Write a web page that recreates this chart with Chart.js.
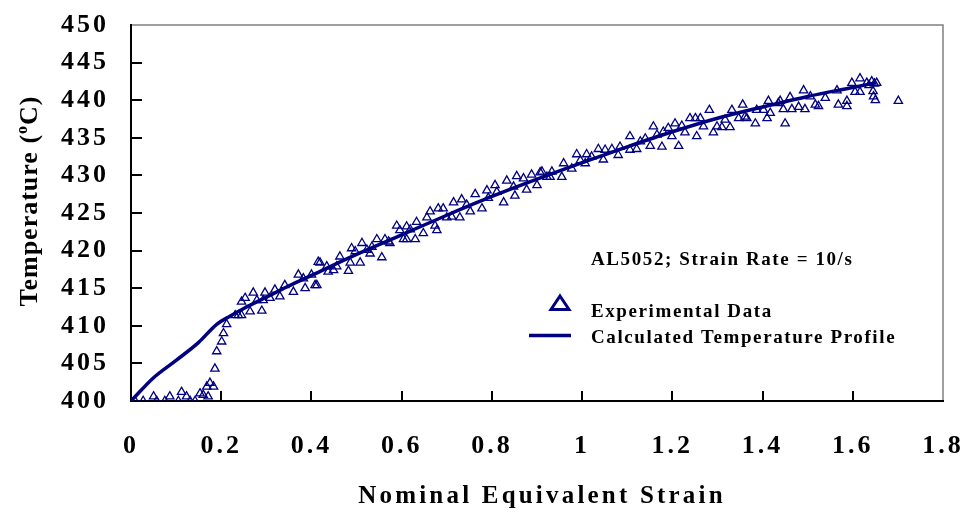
<!DOCTYPE html>
<html lang="en">
<head>
<meta charset="UTF-8">
<title>AL5052 Temperature Profile</title>
<script src="https://cdn.jsdelivr.net/npm/chart.js"></script>
<style>
    html, body { margin: 0; padding: 0; background: #ffffff; }
    #wrap { width: 966px; height: 510px; }
</style>
</head>
<body>
<div id="wrap"><canvas id="chart" width="966" height="510"></canvas></div>
<script>
// axis ticks
const xTicks = [0, 0.2, 0.4, 0.6, 0.8, 1, 1.2, 1.4, 1.6, 1.8];
const xTickLabels = ['0', '0.2', '0.4', '0.6', '0.8', '1', '1.2', '1.4', '1.6', '1.8'];
const yTicks = [400, 405, 410, 415, 420, 425, 430, 435, 440, 445, 450];

// calculated temperature profile
const calcStrain = [0, 0.05, 0.1, 0.15, 0.19, 0.22, 0.25, 0.3, 0.35, 0.4, 0.5, 0.6, 0.7, 0.8, 0.9, 1.0, 1.1, 1.2, 1.3, 1.4, 1.5, 1.6, 1.65];
const calcTemp = [400, 403.1, 405.4, 407.8, 410.2, 411.3, 412.3, 413.8, 415.3, 416.7, 419.5, 422.1, 424.7, 427.2, 429.5, 431.7, 433.8, 435.8, 437.6, 439.1, 440.5, 441.7, 442.3];

const expStrain = [
    0.009, 0.027, 0.05, 0.057, 0.075, 0.086, 0.105, 0.112, 0.123, 0.131, 0.142, 0.153, 0.16, 0.168, 0.171, 0.175, 0.183, 0.186, 0.19, 0.201,
    0.205, 0.212, 0.231, 0.238, 0.245, 0.245, 0.253, 0.264, 0.271, 0.279, 0.29, 0.293, 0.297, 0.308, 0.319, 0.33, 0.341, 0.36, 0.371, 0.386,
    0.4, 0.412, 0.415, 0.408, 0.382, 0.419, 0.434, 0.437, 0.449, 0.456, 0.463, 0.482, 0.486, 0.489, 0.497, 0.508, 0.512, 0.523, 0.53, 0.534,
    0.545, 0.556, 0.563, 0.571, 0.574, 0.589, 0.596, 0.604, 0.611, 0.611, 0.619, 0.63, 0.633, 0.648, 0.656, 0.663, 0.674, 0.678, 0.681, 0.692,
    0.7, 0.711, 0.715, 0.729, 0.733, 0.744, 0.752, 0.763, 0.778, 0.789, 0.792, 0.807, 0.811, 0.826, 0.833, 0.848, 0.851, 0.855, 0.87, 0.877,
    0.888, 0.9, 0.907, 0.922, 0.911, 0.929, 0.933, 0.955, 0.959, 0.977, 0.988, 0.996, 1.007, 1.01, 1.021, 1.036, 1.047, 1.051, 1.066, 1.08,
    1.084, 1.106, 1.106, 1.121, 1.129, 1.14, 1.151, 1.158, 1.166, 1.177, 1.18, 1.191, 1.199, 1.206, 1.214, 1.221, 1.228, 1.239, 1.251, 1.254,
    1.262, 1.269, 1.282, 1.291, 1.299, 1.31, 1.317, 1.328, 1.332, 1.347, 1.356, 1.365, 1.384, 1.387, 1.402, 1.41, 1.413, 1.417, 1.435, 1.361,
    1.439, 1.446, 1.45, 1.461, 1.465, 1.48, 1.491, 1.494, 1.506, 1.517, 1.524, 1.539, 1.565, 1.568, 1.587, 1.587, 1.598, 1.605, 1.616, 1.616,
    1.631, 1.642, 1.646, 1.65, 1.653, 1.636, 1.648, 1.645, 1.701
];
const expTemp = [
    400.0, 400.0, 400.6, 400.0, 400.0, 400.6, 400.0, 401.2, 400.6, 400.0, 400.0, 401.0, 400.8, 401.9, 400.6, 402.4, 401.9, 404.3, 406.6, 407.9,
    409.0, 410.2, 411.4, 411.4, 411.4, 413.2, 413.7, 411.9, 414.4, 413.4, 412.0, 413.4, 414.4, 413.7, 414.8, 413.9, 415.4, 414.5, 416.8, 415.0,
    416.8, 415.4, 418.5, 415.4, 416.3, 418.4, 417.9, 417.2, 417.4, 417.9, 419.2, 417.3, 418.4, 420.3, 419.9, 418.4, 421.0, 420.1, 419.6, 420.5,
    421.5, 419.1, 421.5, 421.2, 421.0, 423.3, 422.7, 421.5, 421.5, 423.2, 422.8, 421.5, 423.8, 422.3, 424.4, 425.2, 423.3, 422.7, 425.6, 425.6,
    424.4, 424.5, 426.4, 424.4, 426.8, 426.1, 425.2, 427.5, 425.6, 428.0, 427.0, 428.7, 427.8, 426.4, 429.3, 428.5, 427.3, 429.9, 429.6, 428.1,
    430.1, 428.7, 430.4, 429.8, 430.5, 429.8, 430.5, 429.8, 431.6, 430.9, 432.8, 432.0, 431.6, 432.8, 432.5, 433.5, 432.1, 433.4, 433.5, 432.7,
    433.8, 435.2, 433.4, 433.5, 434.5, 434.9, 433.9, 436.5, 435.4, 433.8, 435.8, 436.3, 435.2, 436.9, 433.9, 436.6, 435.7, 437.6, 437.6, 435.2,
    437.6, 436.5, 438.7, 435.7, 436.5, 436.4, 437.4, 436.4, 438.7, 437.6, 439.4, 437.6, 436.9, 438.7, 438.7, 437.6, 439.9, 438.3, 439.6, 437.8,
    439.9, 438.8, 436.9, 440.4, 438.8, 439.1, 441.3, 438.8, 440.5, 439.4, 439.2, 440.3, 441.3, 439.4, 439.9, 439.2, 442.3, 441.1, 442.9, 441.1,
    442.3, 442.5, 440.5, 440.0, 442.3, 442.0, 442.2, 441.2, 439.9
];

const navy = '#000080';
const serif = "'Liberation Serif', 'Times New Roman', serif";

// keep the plot box fixed: no extra padding for overhanging tick labels
function fixBox(size, key) {
    return s => {
        s[key] = size;
        s.paddingTop = 0;
        s.paddingBottom = 0;
        s.paddingLeft = 0;
        s.paddingRight = 0;
    };
}

// frame: gray top/right box, black left/bottom axes with inward ticks
const frame = {
    id: 'frame',
    beforeDraw(chart) {
        chart.ctx.letterSpacing = '3px';
    },
    beforeDatasetsDraw(chart) {
        const { ctx, chartArea: a, scales: { x, y } } = chart;
        ctx.save();
        ctx.letterSpacing = '0px';
        ctx.strokeStyle = '#808080';
        ctx.lineWidth = 1.5;
        ctx.beginPath();
        ctx.moveTo(a.left, a.top);
        ctx.lineTo(a.right, a.top);
        ctx.lineTo(a.right, a.bottom);
        ctx.stroke();

        ctx.strokeStyle = '#000000';
        ctx.lineWidth = 2;
        ctx.beginPath();
        ctx.moveTo(a.left, a.top - 1);
        ctx.lineTo(a.left, a.bottom);
        ctx.lineTo(a.right + 1, a.bottom);
        yTicks.slice(1, -1).forEach(v => {
            const py = Math.round(y.getPixelForValue(v));
            ctx.moveTo(a.left, py);
            ctx.lineTo(a.left + 11, py);
        });
        xTicks.slice(1, -1).forEach(v => {
            const px = Math.round(x.getPixelForValue(v));
            ctx.moveTo(px, a.bottom);
            ctx.lineTo(px, a.bottom - 10);
        });
        ctx.stroke();
        ctx.restore();
    },
    afterDraw(chart) {
        const ctx = chart.ctx;
        ctx.save();
        ctx.fillStyle = '#000000';

        // x title
        ctx.letterSpacing = '3.2px';
        ctx.font = 'bold 25px ' + serif;
        ctx.textAlign = 'center';
        ctx.textBaseline = 'alphabetic';
        ctx.fillText('Nominal Equivalent Strain', 542, 503);

        // y title with superscript o
        ctx.translate(37, 201);
        ctx.rotate(-Math.PI / 2);
        ctx.letterSpacing = '1px';
        ctx.textAlign = 'left';
        const big = 'bold 26px ' + serif;
        const small = 'bold 16px ' + serif;
        ctx.font = big;
        const w1 = ctx.measureText('Temperature (').width;
        const w3 = ctx.measureText('C)').width;
        ctx.font = small;
        const w2 = ctx.measureText('o').width;
        let cx = -(w1 + w2 + w3) / 2;
        ctx.font = big;
        ctx.fillText('Temperature (', cx, 0);
        cx += w1;
        ctx.font = small;
        ctx.fillText('o', cx, -10);
        cx += w2;
        ctx.font = big;
        ctx.fillText('C)', cx, 0);
        ctx.setTransform(1, 0, 0, 1, 0, 0);

        // annotation + legend
        ctx.letterSpacing = '1.6px';
        ctx.font = 'bold 19px ' + serif;
        ctx.textAlign = 'left';
        ctx.fillText('AL5052; Strain Rate = 10/s', 591, 265);
        ctx.fillText('Experimental Data', 591, 317);
        ctx.fillText('Calculated Temperature Profile', 591, 343);

        ctx.strokeStyle = navy;
        ctx.lineWidth = 3;
        ctx.lineJoin = 'miter';
        ctx.beginPath();
        ctx.moveTo(560, 296);
        ctx.lineTo(569, 309.5);
        ctx.lineTo(551, 309.5);
        ctx.closePath();
        ctx.stroke();

        ctx.lineWidth = 3.5;
        ctx.beginPath();
        ctx.moveTo(529, 335.5);
        ctx.lineTo(571, 335.5);
        ctx.stroke();
        ctx.restore();
    }
};

new Chart(document.getElementById('chart'), {
    type: 'scatter',
    data: {
        datasets: [
            {
                label: 'Calculated Temperature Profile',
                data: calcStrain.map((s, i) => ({ x: s, y: calcTemp[i] })),
                showLine: true,
                borderColor: navy,
                borderWidth: 3.5,
                pointRadius: 0,
                cubicInterpolationMode: 'monotone'
            },
            {
                label: 'Experimental Data',
                data: expStrain.map((s, i) => ({ x: s, y: expTemp[i] })),
                pointStyle: 'triangle',
                pointRadius: 4.8,
                pointBorderWidth: 1.3,
                borderColor: navy,
                backgroundColor: 'rgba(0,0,0,0)'
            }
        ]
    },
    options: {
        responsive: false,
        animation: false,
        events: [],
        layout: { padding: { top: 25, right: 23, left: 0, bottom: 0 } },
        plugins: { legend: { display: false }, tooltip: { enabled: false } },
        scales: {
            x: {
                type: 'linear',
                min: 0,
                max: 1.8,
                afterBuildTicks: s => { s.ticks = xTicks.map(v => ({ value: v })); },
                afterFit: fixBox(109, 'height'),
                grid: { display: false, drawTicks: false },
                border: { display: false },
                ticks: {
                    autoSkip: false,
                    maxRotation: 0,
                    padding: 30,
                    color: '#000000',
                    font: { family: serif, size: 26, weight: 'bold' },
                    callback: (v, i) => xTickLabels[i]
                }
            },
            y: {
                min: 400,
                max: 450,
                afterBuildTicks: s => { s.ticks = yTicks.map(v => ({ value: v })); },
                afterFit: fixBox(131, 'width'),
                grid: { display: false, drawTicks: false },
                border: { display: false },
                ticks: {
                    padding: 22,
                    color: '#000000',
                    font: { family: serif, size: 26, weight: 'bold' },
                    callback: v => String(v)
                }
            }
        }
    },
    plugins: [frame]
});
</script>
</body>
</html>
